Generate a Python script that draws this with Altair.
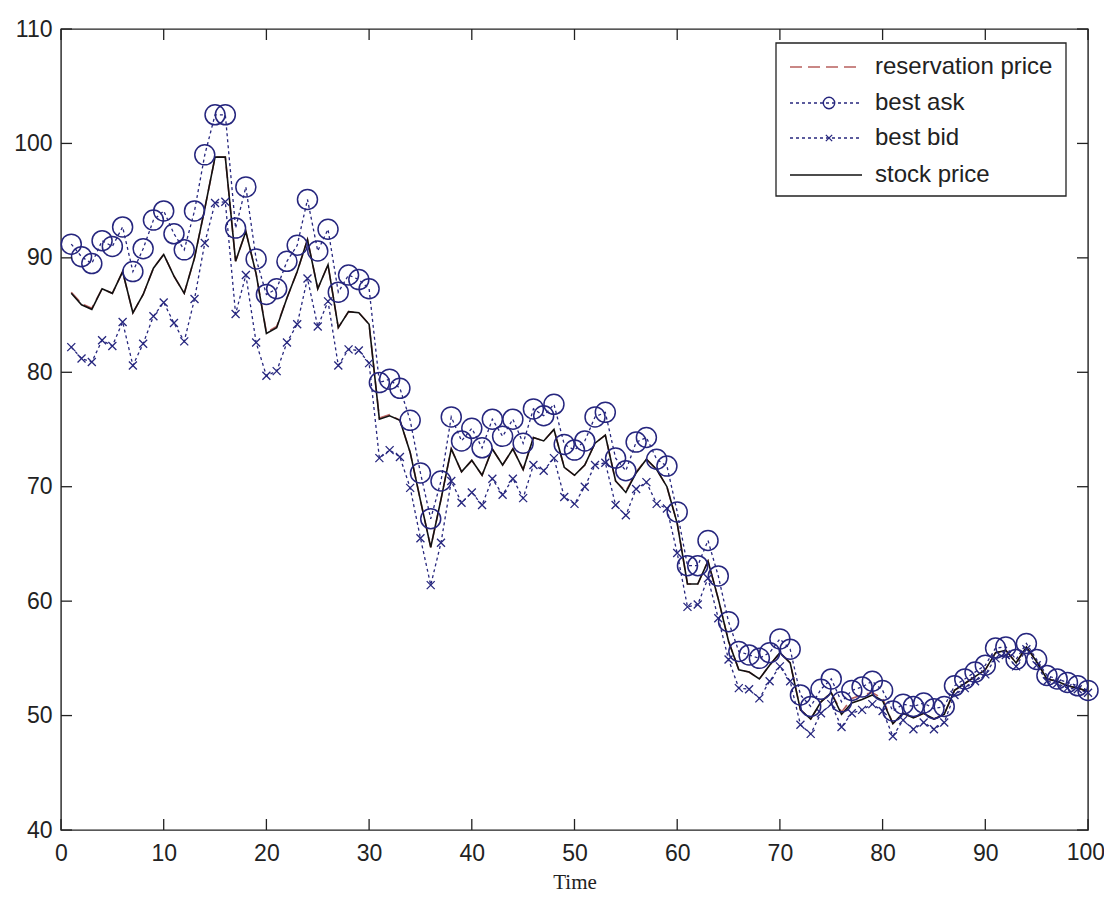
import altair as alt
import pandas as pd

t_vals = list(range(1, 101))

best_ask = [91.2, 90.1, 89.5, 91.5, 91.0, 92.7, 88.8, 90.8, 93.3, 94.1,
            92.1, 90.7, 94.1, 99.0, 102.5, 102.5, 92.6, 96.2, 89.9, 86.8,
            87.3, 89.7, 91.1, 95.1, 90.6, 92.5, 87.0, 88.5, 88.1, 87.3,
            79.1, 79.4, 78.6, 75.8, 71.2, 67.2, 70.5, 76.1, 74.0, 75.1,
            73.4, 75.9, 74.4, 75.9, 73.8, 76.8, 76.2, 77.2, 73.7, 73.2,
            74.0, 76.1, 76.5, 72.5, 71.4, 73.9, 74.3, 72.4, 71.8, 67.8,
            63.1, 63.1, 65.3, 62.2, 58.2, 55.6, 55.3, 55.0, 55.5, 56.7,
            55.8, 51.8, 50.8, 52.3, 53.2, 51.2, 52.2, 52.5, 53.0, 52.2,
            50.4, 51.0, 50.8, 51.1, 50.6, 50.8, 52.6, 53.2, 53.8, 54.4,
            55.9, 56.0, 54.9, 56.3, 54.9, 53.5, 53.2, 52.9, 52.6, 52.2]

best_bid = [82.2, 81.2, 80.9, 82.8, 82.3, 84.4, 80.6, 82.5, 84.9, 86.1,
            84.3, 82.7, 86.4, 91.3, 94.8, 94.9, 85.1, 88.5, 82.6, 79.7,
            80.1, 82.6, 84.2, 88.2, 84.0, 86.2, 80.6, 82.0, 81.9, 80.8,
            72.5, 73.2, 72.6, 69.9, 65.5, 61.4, 65.1, 70.5, 68.6, 69.5,
            68.4, 70.7, 69.3, 70.7, 69.0, 71.9, 71.4, 72.5, 69.1, 68.5,
            70.0, 71.9, 72.1, 68.4, 67.5, 69.8, 70.4, 68.5, 68.1, 64.2,
            59.5, 59.7, 62.0, 58.5, 54.9, 52.4, 52.3, 51.5, 53.0, 54.3,
            53.0, 49.2, 48.4, 50.2, 51.0, 49.0, 50.2, 50.5, 51.0, 50.4,
            48.2, 49.6, 48.8, 49.4, 48.8, 49.4, 51.8, 52.4, 53.0, 53.6,
            55.0, 55.3, 54.3, 55.8, 54.4, 53.0, 52.8, 52.4, 52.3, 52.0]

stock_price = [86.9, 85.9, 85.5, 87.3, 86.9, 88.8, 85.2, 86.8, 89.1, 90.3,
               88.4, 86.9, 90.0, 94.3, 98.8, 98.8, 89.7, 92.3, 88.6, 83.4,
               83.9, 86.5, 88.8, 91.6, 87.3, 89.4, 83.9, 85.3, 85.2, 84.2,
               75.9, 76.2, 75.8, 73.0, 68.8, 64.7, 68.9, 73.3, 71.3, 72.3,
               71.0, 73.3, 71.9, 73.3, 71.5, 74.3, 74.0, 75.0, 71.7, 71.0,
               71.9, 73.8, 74.5, 70.5, 69.5, 71.2, 72.4, 71.5, 70.0, 66.8,
               61.5, 61.5, 63.5, 60.2, 56.5, 54.0, 53.8, 53.2, 54.4, 55.5,
               54.6, 50.5, 49.7, 51.2, 52.0, 50.1, 51.1, 51.4, 51.8, 51.3,
               49.3, 50.2, 49.8, 50.2, 49.7, 50.1, 52.2, 52.8, 53.4, 54.0,
               55.5, 55.7, 54.6, 56.0, 54.7, 53.2, 53.0, 52.6, 52.4, 52.1]

reservation_price = [87.0, 86.0, 85.6, 87.3, 86.9, 88.8, 85.2, 86.8, 89.1, 90.3,
                     88.4, 86.9, 90.0, 94.3, 98.8, 98.8, 89.7, 92.3, 88.6, 83.5,
                     84.0, 86.5, 88.8, 91.6, 87.3, 89.4, 83.9, 85.3, 85.2, 84.2,
                     76.0, 76.3, 75.8, 73.0, 68.8, 64.7, 68.9, 73.3, 71.3, 72.3,
                     71.0, 73.3, 71.9, 73.3, 71.5, 74.3, 74.0, 75.0, 71.7, 71.0,
                     71.9, 73.8, 74.5, 70.5, 69.6, 71.3, 72.4, 71.5, 70.0, 66.8,
                     61.5, 61.5, 63.5, 60.2, 56.5, 54.0, 53.8, 53.2, 54.4, 55.5,
                     54.6, 50.5, 49.7, 51.2, 52.0, 50.3, 51.5, 51.8, 52.0, 51.5,
                     49.3, 50.2, 49.8, 50.2, 49.7, 50.1, 52.2, 52.8, 53.4, 54.0,
                     55.5, 55.7, 54.6, 56.0, 54.7, 53.2, 53.0, 52.6, 52.4, 52.1]

x_ticks = [0, 10, 20, 30, 40, 50, 60, 70, 80, 90, 100]
y_ticks = [40, 50, 60, 70, 80, 90, 100, 110]
legend_labels = ["reservation price", "best ask", "best bid", "stock price"]

W, H = 1027, 801
INK = "#222222"
NAVY = "#26267e"
RED = "#b8605e"
LABEL_FS = 23

df = pd.DataFrame({
    "t": t_vals,
    "ask": best_ask,
    "bid": best_bid,
    "stock": stock_price,
    "res": reservation_price,
})

last_tick = x_ticks[-1]

x_enc = alt.X("t:Q", scale=alt.Scale(domain=[0, 100], nice=False, zero=False),
              axis=alt.Axis(values=x_ticks, ticks=False, domain=False, grid=False,
                            labelFont="Liberation Sans", labelFontSize=LABEL_FS, labelColor=INK,
                            labelPadding=12, labelOverlap=False, labelFlush=False, labelBound=False,
                            labelExpr=f"datum.value == {last_tick} ? '' : datum.label",
                            title="Time", titleFont="Liberation Serif", titleFontSize=21,
                            titleFontWeight="normal", titleColor=INK, titlePadding=6))

def y_enc(field):
    return alt.Y(field + ":Q", scale=alt.Scale(domain=[40, 110], nice=False, zero=False),
                 axis=alt.Axis(values=y_ticks, ticks=False, domain=False, grid=False,
                               labelFont="Liberation Sans", labelFontSize=LABEL_FS, labelColor=INK,
                               labelPadding=9, labelOverlap=False, labelFlush=False, labelBound=False,
                               title=None),
                 title=None)

base = alt.Chart(df)

res_line = base.mark_line(color=RED, strokeWidth=1.6, strokeDash=[12, 6]).encode(x=x_enc, y=y_enc("res"))
ask_line = base.mark_line(color=NAVY, strokeWidth=1.3, strokeDash=[3, 3]).encode(x=x_enc, y=y_enc("ask"))
bid_line = base.mark_line(color=NAVY, strokeWidth=1.3, strokeDash=[3, 3]).encode(x=x_enc, y=y_enc("bid"))
stock_line = base.mark_line(color="#111111", strokeWidth=1.6).encode(x=x_enc, y=y_enc("stock"))
ask_pts = base.mark_point(shape="circle", filled=False, color=NAVY, strokeWidth=1.5, size=400,
                          opacity=1).encode(x=x_enc, y=y_enc("ask"))
XPATH = "M-1,-1L1,1M-1,1L1,-1"
bid_pts = base.mark_point(shape=XPATH, filled=False, color=NAVY, strokeWidth=1.3, size=64,
                          opacity=1).encode(x=x_enc, y=y_enc("bid"))

# inward tick marks (MATLAB-style box axes)
xt = alt.Chart(pd.DataFrame({"t": x_ticks}))
yt = alt.Chart(pd.DataFrame({"ask": y_ticks}))
TL = 11
tick_b = xt.mark_rule(color=INK, strokeWidth=1.3).encode(x=x_enc, y=alt.value(H), y2=alt.value(H - TL))
tick_t = xt.mark_rule(color=INK, strokeWidth=1.3).encode(x=x_enc, y=alt.value(0), y2=alt.value(TL))
tick_l = yt.mark_rule(color=INK, strokeWidth=1.3).encode(y=y_enc("ask"), x=alt.value(0), x2=alt.value(TL))
tick_r = yt.mark_rule(color=INK, strokeWidth=1.3).encode(y=y_enc("ask"), x=alt.value(W), x2=alt.value(W - TL))

# last x tick label, kept inside the page edge
last_lab = alt.Chart(pd.DataFrame({"t": [last_tick], "lab": [str(last_tick)]})).mark_text(
    align="right", baseline="top", font="Liberation Sans", fontSize=LABEL_FS, color=INK, dx=17
).encode(x=x_enc, y=alt.value(H + 12), text="lab:N")

# legend
one = alt.Chart(pd.DataFrame({"k": [0]}))
LX0, LX1, LXT = 715, 1005, 814
SX0, SX1, SXM = 729, 801, 768
ROWS = [38, 74, 109, 146]
leg_box = one.mark_rect(fill="white", stroke=INK, strokeWidth=1.3).encode(
    x=alt.value(LX0), x2=alt.value(LX1), y=alt.value(14), y2=alt.value(167))
leg_layers = [leg_box]
leg_layers.append(one.mark_rule(color=RED, strokeWidth=1.6, strokeDash=[12, 6]).encode(
    x=alt.value(SX0), x2=alt.value(SX1), y=alt.value(ROWS[0])))
leg_layers.append(one.mark_rule(color=NAVY, strokeWidth=1.3, strokeDash=[3, 3]).encode(
    x=alt.value(SX0), x2=alt.value(SX1), y=alt.value(ROWS[1])))
leg_layers.append(one.mark_point(shape="circle", filled=False, color=NAVY, strokeWidth=1.4, size=130,
                                 opacity=1).encode(x=alt.value(SXM), y=alt.value(ROWS[1])))
leg_layers.append(one.mark_rule(color=NAVY, strokeWidth=1.3, strokeDash=[3, 3]).encode(
    x=alt.value(SX0), x2=alt.value(SX1), y=alt.value(ROWS[2])))
leg_layers.append(one.mark_point(shape=XPATH, filled=False, color=NAVY, strokeWidth=1.3, size=40,
                                 opacity=1).encode(x=alt.value(SXM), y=alt.value(ROWS[2])))
leg_layers.append(one.mark_rule(color="#111111", strokeWidth=1.6).encode(
    x=alt.value(SX0), x2=alt.value(SX1), y=alt.value(ROWS[3])))
for lbl, ry in zip(legend_labels, ROWS):
    leg_layers.append(one.mark_text(align="left", baseline="middle", font="Liberation Sans",
                                    fontSize=24, color=INK).encode(
        x=alt.value(LXT), y=alt.value(ry), text=alt.value(lbl)))

chart = alt.layer(
    res_line, ask_line, bid_line, stock_line, ask_pts, bid_pts,
    tick_b, tick_t, tick_l, tick_r, last_lab,
    *leg_layers
).properties(
    width=W, height=H,
    autosize=alt.AutoSizeParams(type="none"),
    padding={"left": 53, "top": 21, "right": 16, "bottom": 64},
    background="white",
).configure_view(
    stroke=INK, strokeWidth=1.4
)

chart.save("out.html", embed_options={"renderer": "svg", "actions": False})
